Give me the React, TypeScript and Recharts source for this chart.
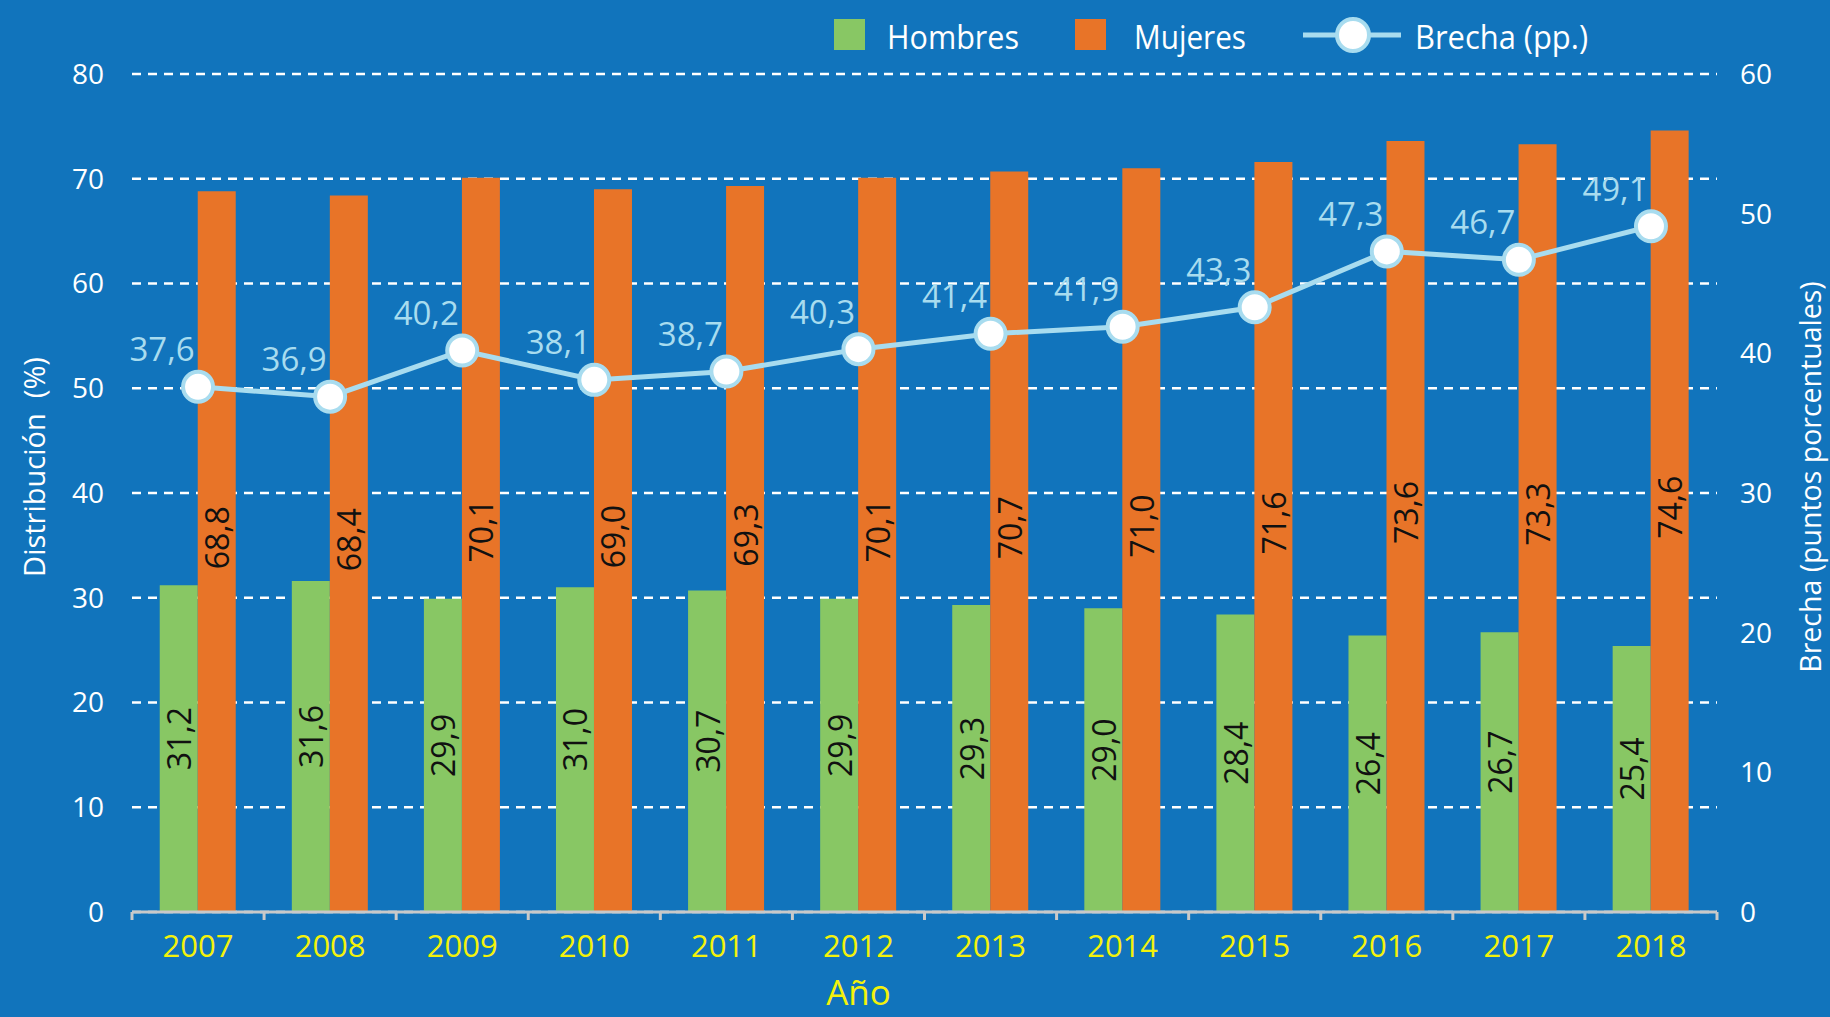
import {
  Bar,
  CartesianGrid,
  ComposedChart,
  LabelList,
  Line,
  XAxis,
  YAxis,
} from "recharts";

const YEARS = ["2007", "2008", "2009", "2010", "2011", "2012", "2013", "2014", "2015", "2016", "2017", "2018"];
const HOMBRES = [31.2, 31.6, 29.9, 31.0, 30.7, 29.9, 29.3, 29.0, 28.4, 26.4, 26.7, 25.4];
const MUJERES = [68.8, 68.4, 70.1, 69.0, 69.3, 70.1, 70.7, 71.0, 71.6, 73.6, 73.3, 74.6];
const BRECHA = [37.6, 36.9, 40.2, 38.1, 38.7, 40.3, 41.4, 41.9, 43.3, 47.3, 46.7, 49.1];
const LEFT_TICKS = [0, 10, 20, 30, 40, 50, 60, 70, 80];
const RIGHT_TICKS = [0, 10, 20, 30, 40, 50, 60];

const W = 1830;
const H = 1017;
const LEFT_W = 132;
const RIGHT_W = 113;
const BAND = (W - LEFT_W - RIGHT_W) / YEARS.length;

const BG = "#1174bc";
const GREEN = "#88c764";
const ORANGE = "#e87428";
const LINE = "#a8dcef";
const YELLOW = "#f4f20a";
const FONT = "'Open Sans', sans-serif";

const data = YEARS.map((year, i) => ({
  year,
  hombres: HOMBRES[i],
  mujeres: MUJERES[i],
  brecha: BRECHA[i],
}));

const fmt = (v: number) => v.toFixed(1).replace(".", ",");

// rotated value inside each bar, a little above the middle like the original
const barLabel = (lift: number) => (props: any) => {
  const { x, y, width, height, value } = props;
  const cx = x + width / 2;
  const cy = y + height / 2 - lift;
  return (
    <text
      x={cx}
      y={cy}
      transform={`rotate(-90 ${cx} ${cy})`}
      textAnchor="middle"
      dominantBaseline="central"
      fontSize={32}
      fontFamily={FONT}
      fill="#111"
    >
      {fmt(value)}
    </text>
  );
};

const lineLabel = (props: any) => {
  const { x, y, value } = props;
  return (
    <text
      x={x - 36}
      y={y - 38}
      textAnchor="middle"
      dominantBaseline="central"
      fontSize={33}
      fontFamily={FONT}
      fill={LINE}
    >
      {fmt(value)}
    </text>
  );
};

function YearTick(props: any) {
  const { x, y, payload, index } = props;
  const last = index === YEARS.length - 1;
  return (
    <g>
      <line x1={x - BAND / 2} x2={x - BAND / 2} y1={y} y2={y + 8} stroke="#c9c9c9" strokeWidth={3} />
      {last && <line x1={x + BAND / 2} x2={x + BAND / 2} y1={y} y2={y + 8} stroke="#c9c9c9" strokeWidth={3} />}
      <text x={x} y={y + 45} textAnchor="middle" fontSize={31} fontFamily={FONT} fill={YELLOW}>
        {payload.value}
      </text>
    </g>
  );
}

function Legend() {
  const txt = { fontSize: 33, fontFamily: FONT, fill: "#fff", dominantBaseline: "central" as const };
  return (
    <svg width={W} height={80} style={{ position: "absolute", left: 0, top: 0, pointerEvents: "none" }}>
      <rect x={834} y={19} width={31} height={31} fill={GREEN} />
      <text x={887} y={36} textLength={132} lengthAdjust="spacingAndGlyphs" {...txt}>
        Hombres
      </text>
      <rect x={1075} y={19} width={31} height={31} fill={ORANGE} />
      <text x={1134} y={36} textLength={112} lengthAdjust="spacingAndGlyphs" {...txt}>
        Mujeres
      </text>
      <line x1={1303} x2={1401} y1={35} y2={35} stroke={LINE} strokeWidth={5} />
      <circle cx={1353} cy={35} r={16} fill="#fff" stroke={LINE} strokeWidth={4} />
      <text x={1415} y={36} textLength={173} lengthAdjust="spacingAndGlyphs" {...txt}>
        Brecha (pp.)
      </text>
    </svg>
  );
}

export default function App() {
  const tickStyle = { fill: "#fff", fontSize: 28, fontFamily: FONT };
  return (
    <div style={{ position: "absolute", left: 0, top: 0, width: W, height: H, background: BG, overflow: "hidden" }}>
      <ComposedChart
        width={W}
        height={H}
        data={data}
        margin={{ top: 74, right: 0, bottom: 0, left: 0 }}
        barCategoryGap="21%"
        barGap={0}
      >
        <CartesianGrid
          yAxisId="left"
          vertical={false}
          stroke="#fff"
          strokeWidth={2.5}
          strokeDasharray="9 7"
        />
        <XAxis
          dataKey="year"
          height={105}
          interval={0}
          tickSize={0}
          tickMargin={0}
          axisLine={{ stroke: "#c9c9c9", strokeWidth: 3 }}
          tickLine={false}
          tick={<YearTick />}
          label={(p: any) => {
            const vb = p.viewBox;
            return (
              <text
                x={vb.x + vb.width / 2 - 66}
                y={vb.y + 93}
                textAnchor="middle"
                fontSize={35}
                fontFamily={FONT}
                fill={YELLOW}
              >
                Año
              </text>
            );
          }}
        />
        <YAxis
          yAxisId="left"
          width={LEFT_W}
          domain={[0, 80]}
          ticks={LEFT_TICKS}
          axisLine={false}
          tickLine={false}
          tickMargin={22}
          tick={tickStyle}
          label={(p: any) => {
            const vb = p.viewBox;
            const cx = 33;
            const cy = vb.y + vb.height / 2 - 26;
            return (
              <text
                x={cx}
                y={cy}
                transform={`rotate(-90 ${cx} ${cy})`}
                textAnchor="middle"
                dominantBaseline="central"
                fontSize={29}
                fontFamily={FONT}
                fill="#fff"
                style={{ whiteSpace: "pre" }}
              >
                {"Distribución  (%)"}
              </text>
            );
          }}
        />
        <YAxis
          yAxisId="right"
          orientation="right"
          width={RIGHT_W}
          domain={[0, 60]}
          ticks={RIGHT_TICKS}
          axisLine={false}
          tickLine={false}
          tickMargin={17}
          tick={tickStyle}
          label={(p: any) => {
            const vb = p.viewBox;
            const cx = vb.x + 93;
            const cy = vb.y + vb.height / 2 - 16;
            return (
              <text
                x={cx}
                y={cy}
                transform={`rotate(-90 ${cx} ${cy})`}
                textAnchor="middle"
                dominantBaseline="central"
                fontSize={28.5}
                fontFamily={FONT}
                fill="#fff"
              >
                Brecha (puntos porcentuales)
              </text>
            );
          }}
        />
        <Bar yAxisId="left" dataKey="hombres" fill={GREEN} isAnimationActive={false}>
          <LabelList dataKey="hombres" content={barLabel(10)} />
        </Bar>
        <Bar yAxisId="left" dataKey="mujeres" fill={ORANGE} isAnimationActive={false}>
          <LabelList dataKey="mujeres" content={barLabel(14)} />
        </Bar>
        <Line
          yAxisId="right"
          dataKey="brecha"
          stroke={LINE}
          strokeWidth={5}
          dot={{ r: 15, fill: "#fff", stroke: LINE, strokeWidth: 4 }}
          isAnimationActive={false}
        >
          <LabelList dataKey="brecha" content={lineLabel} />
        </Line>
      </ComposedChart>
      <Legend />
    </div>
  );
}
